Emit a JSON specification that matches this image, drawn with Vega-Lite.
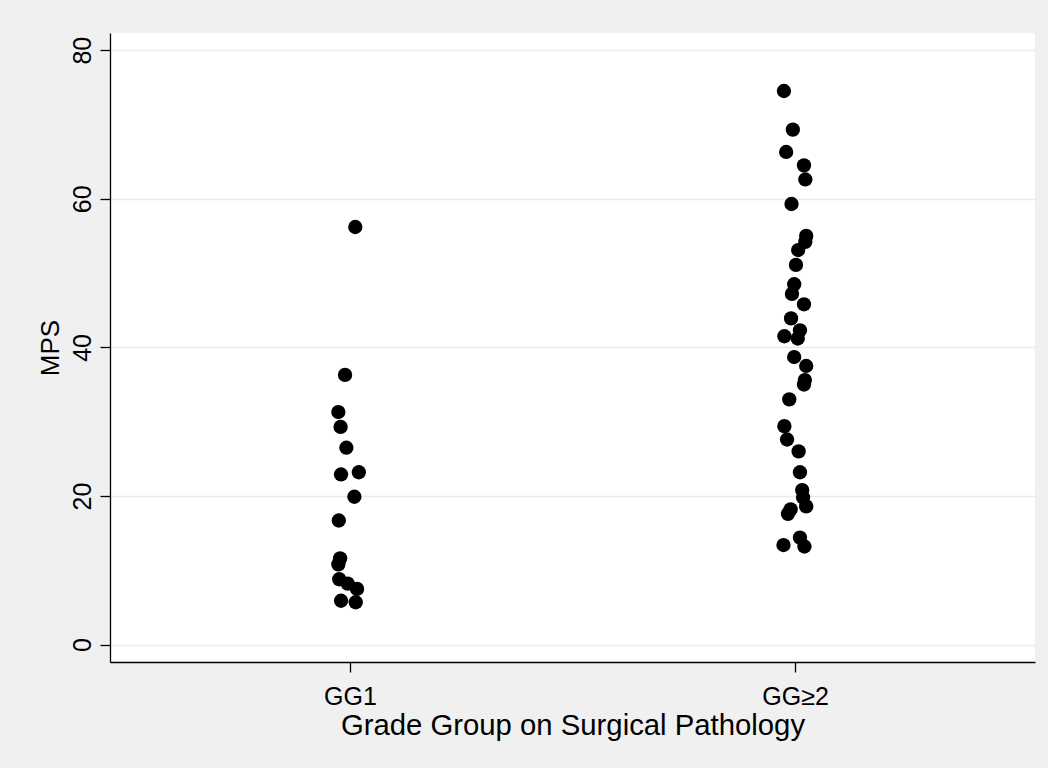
{
  "$schema": "https://vega.github.io/schema/vega-lite/v6.json",
  "autosize": "none",
  "width": 925,
  "height": 629,
  "padding": {"left": 110, "top": 33, "right": 13, "bottom": 106},
  "background": "#f0f0f0",
  "config": {
    "font": "Liberation Sans",
    "view": {"fill": "white", "stroke": null}
  },
  "data": {
    "values": [
      {"group": "GG1", "x": 1.012, "mps": 56.2},
      {"group": "GG1", "x": 0.989, "mps": 36.3},
      {"group": "GG1", "x": 0.974, "mps": 31.3},
      {"group": "GG1", "x": 0.979, "mps": 29.3},
      {"group": "GG1", "x": 0.992, "mps": 26.5},
      {"group": "GG1", "x": 0.980, "mps": 22.9},
      {"group": "GG1", "x": 1.020, "mps": 23.2},
      {"group": "GG1", "x": 1.010, "mps": 19.9},
      {"group": "GG1", "x": 0.975, "mps": 16.7},
      {"group": "GG1", "x": 0.978, "mps": 11.6},
      {"group": "GG1", "x": 0.974, "mps": 10.8},
      {"group": "GG1", "x": 0.976, "mps": 8.8},
      {"group": "GG1", "x": 0.995, "mps": 8.2},
      {"group": "GG1", "x": 1.016, "mps": 7.5},
      {"group": "GG1", "x": 0.980, "mps": 5.9},
      {"group": "GG1", "x": 1.013, "mps": 5.7},
      {"group": "GG≥2", "x": 1.975, "mps": 74.5},
      {"group": "GG≥2", "x": 1.995, "mps": 69.3},
      {"group": "GG≥2", "x": 1.980, "mps": 66.3},
      {"group": "GG≥2", "x": 2.020, "mps": 64.5},
      {"group": "GG≥2", "x": 2.023, "mps": 62.6},
      {"group": "GG≥2", "x": 1.992, "mps": 59.3},
      {"group": "GG≥2", "x": 2.025, "mps": 55.0},
      {"group": "GG≥2", "x": 2.023, "mps": 54.2},
      {"group": "GG≥2", "x": 2.007, "mps": 53.1},
      {"group": "GG≥2", "x": 2.002, "mps": 51.1},
      {"group": "GG≥2", "x": 1.998, "mps": 48.5},
      {"group": "GG≥2", "x": 1.993, "mps": 47.2},
      {"group": "GG≥2", "x": 2.020, "mps": 45.8},
      {"group": "GG≥2", "x": 1.991, "mps": 43.9},
      {"group": "GG≥2", "x": 2.011, "mps": 42.3},
      {"group": "GG≥2", "x": 1.976, "mps": 41.5},
      {"group": "GG≥2", "x": 2.006, "mps": 41.2},
      {"group": "GG≥2", "x": 1.998, "mps": 38.7},
      {"group": "GG≥2", "x": 2.025, "mps": 37.5},
      {"group": "GG≥2", "x": 2.022, "mps": 35.6},
      {"group": "GG≥2", "x": 2.020, "mps": 35.0},
      {"group": "GG≥2", "x": 1.987, "mps": 33.0},
      {"group": "GG≥2", "x": 1.976, "mps": 29.4},
      {"group": "GG≥2", "x": 1.982, "mps": 27.6},
      {"group": "GG≥2", "x": 2.008, "mps": 26.0},
      {"group": "GG≥2", "x": 2.011, "mps": 23.2},
      {"group": "GG≥2", "x": 2.016, "mps": 20.8},
      {"group": "GG≥2", "x": 2.018, "mps": 19.8},
      {"group": "GG≥2", "x": 2.025, "mps": 18.6},
      {"group": "GG≥2", "x": 1.990, "mps": 18.2},
      {"group": "GG≥2", "x": 1.984, "mps": 17.6},
      {"group": "GG≥2", "x": 2.011, "mps": 14.4},
      {"group": "GG≥2", "x": 1.974, "mps": 13.4},
      {"group": "GG≥2", "x": 2.021, "mps": 13.2}
    ]
  },
  "mark": {"type": "point", "shape": "circle", "filled": true, "color": "black", "opacity": 1, "size": 205},
  "encoding": {
    "x": {
      "field": "x",
      "type": "quantitative",
      "scale": {"domain": [0.461, 2.539], "nice": false, "zero": false},
      "axis": {
        "title": "Grade Group on Surgical Pathology",
        "values": [1, 2],
        "labelExpr": "datum.value == 1 ? 'GG1' : 'GG≥2'",
        "grid": false,
        "domainColor": "black",
        "domainWidth": 1.3,
        "tickColor": "black",
        "tickWidth": 1.3,
        "tickSize": 10,
        "labelFontSize": 25,
        "labelColor": "black",
        "labelPadding": 12,
        "titleFontSize": 29.3,
        "titleFontWeight": "normal",
        "titleColor": "black",
        "titlePadding": 2
      }
    },
    "y": {
      "field": "mps",
      "type": "quantitative",
      "scale": {"domain": [-2.34, 82.31], "nice": false, "zero": false},
      "axis": {
        "title": "MPS",
        "values": [0, 20, 40, 60, 80],
        "grid": true,
        "gridColor": "#e4edf0",
        "gridWidth": 1.5,
        "domainColor": "black",
        "domainWidth": 1.3,
        "tickColor": "black",
        "tickWidth": 1.3,
        "tickSize": 10,
        "labelFontSize": 25,
        "labelColor": "black",
        "labelAngle": 270,
        "labelAlign": "center",
        "labelBaseline": "bottom",
        "labelPadding": 5,
        "titleFontSize": 26,
        "titleFontWeight": "normal",
        "titleColor": "black",
        "titlePadding": 7
      }
    }
  }
}
